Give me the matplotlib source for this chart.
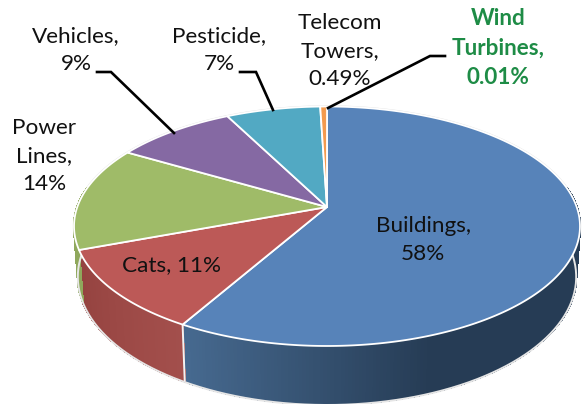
import numpy as np
import matplotlib
matplotlib.use("Agg")
import matplotlib.pyplot as plt
from matplotlib.colors import to_rgb

# Data
categories = ["Buildings", "Cats", "Power Lines", "Vehicles", "Pesticide", "Telecom Towers", "Wind Turbines"]
values = [58, 11, 14, 9, 7, 0.49, 0.01]
labels = ["Buildings,\n58%", "Cats, 11%", "Power\nLines,\n14%", "Vehicles,\n9%", "Pesticide,\n7%",
          "Telecom\nTowers,\n0.49%", "Wind\nTurbines,\n0.01%"]

# Style
top_colors = ["#5783B9", "#BC5957", "#9FBB68", "#8569A3", "#52A9C3", "#F39A4E", "#F39A4E"]
wall_left = ["#46698F", "#A34F4C", "#8FA85C", "#755C8F", "#4794AB", "#D98A45", "#D98A45"]
wall_right = ["#263C55", "#94423F", "#8FA85C", "#755C8F", "#4794AB", "#D98A45", "#D98A45"]
label_pos = [(423, 240), (171, 265), (44, 156), (76, 50), (219, 50), (340, 51), (498, 48)]
label_col = ["#111111"] * 6 + ["#1E8C46"]
label_weight = ["normal"] * 6 + ["bold"]
leaders = {3: [(97, 72), (111, 72), (174, 133)],
           4: [(240, 72), (256, 72), (273, 110)],
           6: [(445, 56), (430, 56), (328, 108)]}

HX, HY = 327.0, 207.0
A, B, K = 249.7, 116.65, 0.1607


def top_xy(theta):
    """theta clockwise from 12 o'clock, radians -> pixel coords on the top face."""
    u, v = np.sin(theta), np.cos(theta)
    d = 1 + K * v
    return HX + A * u / d, HY - B * v / d


def bottom_xy(theta):
    x, y = top_xy(theta)
    return HX + (x - HX) * 0.985, 276 + (y - 226) * 1.07


fig = plt.figure(figsize=(5.85, 4.04), dpi=100)
ax = fig.add_axes([0, 0, 1, 1])
ax.set_xlim(0, 585)
ax.set_ylim(404, 0)
ax.axis("off")

vals = np.array(values, dtype=float)
edges = np.concatenate([[0], np.cumsum(vals) / vals.sum()]) * 2 * np.pi

# outer light outline of the whole body
t = np.linspace(0, 2 * np.pi, 400)
xt, yt = top_xy(t)
ax.plot(xt, yt, color="#E2E2E2", lw=1.7, zorder=1)

# side walls: visible where the rim faces the viewer
for i in range(len(vals)):
    a0, a1 = edges[i], edges[i + 1]
    n = max(int((a1 - a0) / 0.012), 2)
    th = np.linspace(a0, a1, n + 1)
    lo, hi = to_rgb(wall_left[i]), to_rgb(wall_right[i])
    for j in range(n):
        tm = 0.5 * (th[j] + th[j + 1])
        if np.cos(tm) > 0.17:
            continue
        xa, ya = top_xy(th[j])
        xc, yc = top_xy(th[j + 1])
        xd, yd = bottom_xy(th[j + 1])
        xe, ye = bottom_xy(th[j])
        if i == 0:
            f = np.clip((xa - 187) / (430 - 187), 0, 1)
        else:
            f = j / n
        col = tuple(lo[k] + (hi[k] - lo[k]) * f for k in range(3))
        ax.fill([xa, xc, xd, xe], [ya, yc, yd, ye], facecolor=col, edgecolor=col,
                lw=1.0, zorder=2, antialiased=False)

# soft lower rim of the wall, drawn over the strips
rim = np.linspace(np.arccos(0.17), 2 * np.pi - np.arccos(0.17), 300)
xb, yb = bottom_xy(rim)
ax.plot(xb, yb + 0.6, color="#E6E6E6", lw=1.4, zorder=3)

# white seam at the Buildings / Cats boundary on the wall
xa, ya = top_xy(edges[1])
xe, ye = bottom_xy(edges[1])
ax.plot([xa, xe], [ya, ye], color="#F2F2F2", lw=1.4, zorder=3, solid_capstyle="butt")

# top face wedges
for i in range(len(vals)):
    a0, a1 = edges[i], edges[i + 1]
    th = np.linspace(a0, a1, max(int((a1 - a0) / 0.01), 2))
    x, y = top_xy(th)
    ax.fill(np.r_[HX, x], np.r_[HY, y], facecolor=top_colors[i],
            edgecolor="white" if vals[i] > 0.1 else "none", lw=1.3, joinstyle="round", zorder=4)

# leader lines
for pts in leaders.values():
    p = np.array(pts)
    ax.plot(p[:, 0], p[:, 1], color="#000000", lw=1.9, zorder=5, solid_joinstyle="miter")

# labels
for txt, (lx, ly), c, w in zip(labels, label_pos, label_col, label_weight):
    ax.text(lx, ly, txt, ha="center", va="center", multialignment="center", color=c,
            fontsize=16.2, fontweight=w, family=["Lato", "DejaVu Sans"], linespacing=1.52, zorder=6)

fig.savefig("out.png", dpi=100, facecolor="white")
